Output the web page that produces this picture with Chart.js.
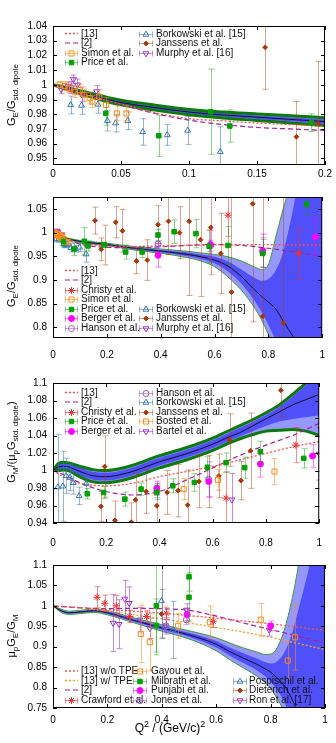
<!DOCTYPE html>
<html><head><meta charset="utf-8">
<script src="https://cdn.jsdelivr.net/npm/chart.js@4/dist/chart.umd.min.js"></script>
<style>
html,body{margin:0;padding:0;background:#fff;}
#wrap{position:relative;width:336px;height:743px;overflow:hidden;background:#fff;}
canvas{position:absolute;left:0;top:0;}
</style></head><body><div id="wrap">
<canvas id="c1" width="336" height="743"></canvas>
<canvas id="c2" width="336" height="743"></canvas>
<canvas id="c3" width="336" height="743"></canvas>
<canvas id="c4" width="336" height="743"></canvas>
</div>
<script>
// ================= tick values =================
const xTicks1 = [0, 0.05, 0.1, 0.15, 0.2];
const xTicks = [0, 0.2, 0.4, 0.6, 0.8, 1];
const yTicks1 = [0.95, 0.96, 0.97, 0.98, 0.99, 1, 1.01, 1.02, 1.03, 1.04];
const yTicks2 = [0.8, 0.85, 0.9, 0.95, 1, 1.05];
const yTicks3 = [0.94, 0.96, 0.98, 1, 1.02, 1.04, 1.06, 1.08, 1.1];
const yTicks4 = [0.75, 0.8, 0.85, 0.9, 0.95, 1, 1.05, 1.1];

// ================= G_E / G_std.dipole data (panels 1 & 2) =================
const simonX = [0.005,0.0086,0.012,0.016,0.0196,0.023,0.027,0.029,0.034,0.039,0.047,0.054];
const simonY = [1.0002,0.9992,0.9976,0.9953,0.9965,0.993,0.991,0.9886,0.992,0.9863,0.9806,0.9806];
const simonE = [0.002,0.003,0.003,0.004,0.004,0.004,0.004,0.004,0.005,0.005,0.005,0.005];
const murphyX = [0.006,0.011,0.0135,0.015,0.018,0.021,0.032];
const murphyY = [0.9969,0.999,0.9982,1.0037,1.0,0.9935,0.9955];
const murphyE = [0.003,0.003,0.004,0.003,0.004,0.005,0.004];
const borkEX = [0.013,0.021,0.033,0.040,0.046,0.055,0.066,0.084,0.099,0.123];
const borkEY = [0.9863,0.986,0.9867,0.9756,0.974,0.9756,0.968,0.9659,0.969,0.9545];
const borkEE = [0.006,0.006,0.006,0.007,0.006,0.006,0.009,0.007,0.0095,0.017];
const priceEX = [0.0388,0.0778,0.116,0.130,0.190,0.27,0.331,0.39,0.45,0.531,0.58,0.65,0.779,0.942];
const priceEY = [0.9806,0.9654,0.9817,0.972,0.9743,0.959,0.959,0.995,1.002,0.998,0.971,0.973,0.956,1.06];
const priceEE = [0.008,0.014,0.029,0.011,0.006,0.015,0.012,0.012,0.025,0.03,0.035,0.04,0.03,0.022];
const janEX = [0.156,0.179,0.195,0.233,0.258,0.31,0.35,0.39,0.429,0.47,0.506,0.548,0.586,0.623,0.663,0.742,0.779,0.856];
const janEY = [1.0255,0.9647,0.9738,1.022,1.004,0.940,0.942,1.017,1.024,1.000,1.024,0.985,1.011,0.956,0.874,1.061,0.823,0.809];
const janEE = [0.0285,0.024,0.042,0.033,0.045,0.027,0.043,0.04,0.07,0.055,0.157,0.12,0.1,0.085,0.25,0.25,0.3,0.3];
const christyEX = [0.65,0.912];
const christyEY = [1.037,0.956];
const christyEE = [0.045,0.053];
const bergerEX = [0.39,0.585,0.779,0.975];
const bergerEY = [0.952,0.975,0.962,0.991];
const bergerEE = [0.025,0.03,0.035,0.04];
const hansonEX = [0.39,0.585,0.779];
const hansonEY = [0.976,0.972,0.958];
const hansonEE = [0.006,0.012,0.031];

// theory curves, panel 1
const lx1 = [0,0.025,0.05,0.075,0.1,0.125,0.15,0.175,0.2];
const ref13_1 = [1.0,0.993,0.987,0.981,0.977,0.9755,0.974,0.973,0.972];
const ref2_1 = [1.0,0.993,0.9865,0.9805,0.976,0.973,0.971,0.970,0.969];
// fit band, panel 1
const bx1 = [0,0.01,0.02,0.03,0.04,0.05,0.075,0.1,0.125,0.15,0.175,0.2];
const bc1 = [1.0,0.9975,0.995,0.9925,0.990,0.988,0.9845,0.9815,0.9795,0.978,0.9765,0.975];
const boU1 = [1.0,0.9981,0.996,0.9938,0.9915,0.9896,0.9862,0.9833,0.9815,0.9802,0.9789,0.9777];
const boL1 = [1.0,0.9969,0.994,0.9912,0.9885,0.9864,0.9828,0.9797,0.9775,0.9758,0.9741,0.9723];
const biU1 = [1.0,0.9978,0.9956,0.9932,0.9908,0.9889,0.9854,0.9825,0.9806,0.9792,0.9778,0.9765];
const biL1 = [1.0,0.9972,0.9945,0.9918,0.9892,0.9871,0.9836,0.9805,0.9784,0.9768,0.9752,0.9735];

// theory curves, panel 2
const lx2 = [0,0.05,0.1,0.15,0.2,0.3,0.4,0.5,0.6,0.7,0.8,0.9,1.0];
const ref13_2 = [1.0,0.987,0.977,0.974,0.972,0.971,0.972,0.973,0.974,0.9745,0.9745,0.974,0.9735];
const ref2_2 = [1.0,0.987,0.976,0.971,0.969,0.968,0.970,0.973,0.975,0.973,0.967,0.959,0.949];
// fit band, panel 2
const bx2 = [0,0.05,0.1,0.15,0.2,0.3,0.4,0.5,0.55,0.6,0.65,0.7,0.75,0.775,0.8,0.825,0.85,0.875,0.9,0.95,1.0];
const bc2 = [1.0,0.988,0.9815,0.978,0.975,0.967,0.961,0.954,0.949,0.942,0.929,0.907,0.878,0.865,0.853,0.84,0.818,0.795,0.772,0.70,0.62];
const boU2 = [1.0,0.9895,0.9835,0.9805,0.9775,0.9705,0.9655,0.9605,0.957,0.954,0.949,0.94,0.927,0.922,0.932,0.985,1.04,1.09,1.15,1.3,1.5];
const biU2 = [1.0,0.9888,0.9825,0.9795,0.9765,0.969,0.9635,0.958,0.954,0.949,0.939,0.922,0.904,0.898,0.902,0.918,0.95,1.005,1.075,1.25,1.45];
const biL2 = [1.0,0.9872,0.9805,0.9765,0.9735,0.965,0.9585,0.95,0.944,0.935,0.918,0.892,0.855,0.832,0.805,0.775,0.74,0.70,0.66,0.55,0.4];
const boL2 = [1.0,0.9865,0.9795,0.9755,0.9725,0.9635,0.9565,0.947,0.940,0.928,0.906,0.878,0.84,0.815,0.785,0.752,0.72,0.68,0.64,0.5,0.35];

// ================= G_M / (mu_p G_std.dipole) data (panel 3) =================
const borkMX = [0.018,0.037,0.049,0.064,0.076,0.098,0.125];
const borkMY = [0.981,0.982,0.994,0.992,0.986,0.971,0.985];
const borkME = [0.06,0.04,0.02,0.015,0.013,0.01,0.01];
const priceMX = [0.129,0.19,0.27,0.331,0.39,0.45,0.531,0.58,0.65,0.72,0.779,0.942];
const priceMY = [0.9734,0.9749,0.9673,0.9787,0.9749,0.9825,0.9863,1.0037,1.009,1.0033,1.0215,1.0139];
const priceME = [0.006,0.007,0.008,0.007,0.008,0.008,0.01,0.012,0.011,0.012,0.012,0.011];
const janMX = [0.18,0.194,0.233,0.294,0.31,0.35,0.39,0.429,0.47,0.506,0.548,0.586,0.623,0.663,0.706,0.742,0.856];
const janMY = [0.959,1.0045,0.943,0.941,0.9665,0.976,0.9597,0.975,0.977,0.9605,0.9874,0.9874,0.9938,1.0348,0.9885,1.0226,1.0917];
const janME = [0.017,0.035,0.022,0.022,0.03,0.025,0.025,0.025,0.03,0.04,0.03,0.03,0.025,0.03,0.022,0.043,0.03];
const christyMX = [0.65,0.912];
const christyMY = [0.9684,1.029];
const christyME = [0.03,0.02];
const bergerMX = [0.39,0.585,0.779,0.975];
const bergerMY = [0.9798,0.9874,1.0075,1.0166];
const bergerME = [0.008,0.018,0.015,0.013];
const hansonMX = [0.39,0.585];
const hansonMY = [0.977,0.99];
const hansonME = [0.008,0.02];
const bostedX = [0.491,0.62,0.832];
const bostedY = [0.9787,0.9893,0.9988];
const bostedE = [0.012,0.012,0.015];
const bartelX = [0.672,1.0];
const bartelY = [0.9666,1.019];
const bartelE = [0.03,0.03];

const lx3 = [0,0.05,0.1,0.2,0.3,0.4,0.5,0.6,0.7,0.8,0.9,1.0];
const ref13_3 = [1.0,0.991,0.9855,0.9825,0.9855,0.993,0.9988,1.0045,1.012,1.0196,1.027,1.033];
const ref2_3 = [1.0,0.994,0.986,0.976,0.972,0.976,0.989,1.003,1.017,1.029,1.04,1.054];
const bx3 = [0,0.02,0.04,0.06,0.1,0.15,0.2,0.25,0.3,0.4,0.5,0.6,0.65,0.7,0.75,0.8,0.85,0.9,0.95,1.0];
const bc3 = [1.0,1.004,1.005,1.004,0.999,0.994,0.993,0.995,0.999,1.010,1.019,1.030,1.037,1.043,1.051,1.059,1.067,1.075,1.081,1.087];
const boU3 = [1.0,1.008,1.0095,1.0085,1.005,1.001,1.0,1.002,1.006,1.017,1.026,1.037,1.044,1.051,1.058,1.066,1.075,1.087,1.1,1.115];
const boL3 = [1.0,1.0,1.0005,0.9995,0.993,0.987,0.986,0.988,0.992,1.003,1.012,1.023,1.030,1.036,1.041,1.045,1.046,1.047,1.045,1.040];
const biU3 = [1.0,1.007,1.0085,1.0075,1.0035,0.9985,0.9975,0.9995,1.0035,1.0145,1.0235,1.0345,1.0415,1.0485,1.0555,1.0635,1.0725,1.0845,1.0975,1.1125];
const biL3 = [1.0,1.001,1.0015,1.0005,0.9945,0.9895,0.9885,0.9905,0.9945,1.0055,1.0145,1.0255,1.0325,1.0385,1.045,1.051,1.056,1.059,1.061,1.063];

// ================= mu_p G_E / G_M data (panel 4) =================
const crawX = [0.162,0.19,0.233,0.282,0.344,0.417,0.589];
const crawY = [1.021,1.0065,1.0,0.974,0.974,0.982,0.962];
const crawE = [0.026,0.02,0.025,0.015,0.015,0.015,0.015];
const gayouX = [0.323,0.356,0.46,0.577,0.764,0.863,0.89];
const gayouY = [0.931,0.911,0.951,0.96,0.966,0.866,0.923];
const gayouE = [0.07,0.07,0.03,0.04,0.04,0.045,0.08];
const milbX = [0.38,0.38,0.5,0.5];
const milbY = [1.0,0.952,1.071,1.021];
const milbE = [0.12,0.065,0.035,0.06];
const punjX = [0.493,0.8];
const punjY = [0.979,0.951];
const punjE = [0.015,0.012];
const jonesX = [0.415,0.49];
const jonesY = [0.951,0.966];
const jonesE = [0.015,0.012];
const posX = [0.399,0.442];
const posY = [1.012,0.941];
const posE = [0.09,0.07];
const dietX = [0.399];
const dietY = [0.98];
const dietE = [0.06];
const ronX = [0.221,0.243,0.264,0.28,0.319,0.356,0.415,0.491,0.795];
const ronY = [0.958,0.955,1.017,1.0065,0.966,0.945,0.951,0.99,0.941];
const ronE = [0.07,0.06,0.045,0.04,0.03,0.025,0.02,0.015,0.015];

const lx4 = [0,0.1,0.2,0.3,0.4,0.5,0.6,0.7,0.8,0.9,1.0];
const ref13noTPE = [1.0,0.996,0.991,0.987,0.982,0.976,0.970,0.963,0.956,0.948,0.94];
const ref13TPE = [1.0,0.995,0.987,0.978,0.968,0.958,0.947,0.936,0.923,0.908,0.893];
const ref2_4 = [1.0,0.995,0.993,0.994,0.993,0.989,0.975,0.958,0.942,0.926,0.909];
const bx4 = [0,0.03,0.06,0.1,0.15,0.2,0.3,0.4,0.5,0.6,0.65,0.7,0.75,0.78,0.8,0.82,0.85,0.88,0.9,0.95,1.0];
const bc4 = [1.0,0.988,0.983,0.985,0.988,0.983,0.964,0.946,0.929,0.906,0.888,0.872,0.857,0.846,0.838,0.826,0.805,0.77,0.74,0.66,0.58];
const boU4 = [1.0,0.992,0.987,0.989,0.992,0.988,0.970,0.954,0.939,0.922,0.909,0.897,0.887,0.881,0.882,0.893,0.94,1.02,1.09,1.3,1.5];
const biU4 = [1.0,0.990,0.985,0.987,0.990,0.986,0.967,0.950,0.934,0.914,0.898,0.884,0.871,0.862,0.859,0.862,0.885,0.935,0.985,1.12,1.3];
const biL4 = [1.0,0.986,0.981,0.983,0.986,0.980,0.961,0.942,0.924,0.898,0.878,0.86,0.842,0.828,0.815,0.798,0.765,0.715,0.675,0.56,0.45];
const boL4 = [1.0,0.984,0.979,0.981,0.984,0.978,0.958,0.938,0.919,0.89,0.868,0.848,0.828,0.812,0.798,0.778,0.74,0.685,0.645,0.52,0.4];

// ================= styles =================
const FONT = '"Liberation Sans", Arial, Helvetica, sans-serif';
Chart.defaults.font.family = FONT;
const ST = {
  price:  {ps:'rect', r:3.2, c:'#00a000', fill:true,  ec:'rgba(0,160,0,0.45)'},
  simon:  {ps:'rect', r:3.6, c:'#ff8c1a', fill:false, ec:'rgba(255,140,26,0.55)'},
  bork:   {ps:'triangle', r:3.4, c:'#3a78b4', fill:false, ec:'rgba(58,120,180,0.55)'},
  jan:    {ps:'rectRot', r:2.4, c:'#a8380a', fill:true, ec:'rgba(168,56,10,0.45)'},
  murphy: {ps:'triangle', rot:180, r:3.4, c:'#9932cc', fill:false, ec:'rgba(153,50,204,0.55)'},
  christy:{ps:'star', r:3.6, c:'#f03030', fill:false, ec:'rgba(240,48,48,0.55)'},
  berger: {ps:'circle', r:3, c:'#ff00ff', fill:true, ec:'rgba(255,0,255,0.5)'},
  hanson: {ps:'circle', r:3, c:'#9955cc', fill:false, ec:'rgba(153,85,204,0.55)'}
};
const RED = '#ff5050', PURPLE = '#a020a0', ORANGE = '#ff9a30';
const L13 = {k:'line', c:RED, dash:[2,2], w:1.3};
const L2 = {k:'line', c:PURPLE, dash:[5,3], w:1.2};
const LTPE = {k:'line', c:ORANGE, dash:[2,2], w:1.3};

function xy(xs, ys){ return xs.map((x,i)=>({x:x, y:ys[i]})); }
function pts(xs, ys, es, st){
  return {type:'line', showLine:false, data:xy(xs,ys), errs:es, errColor:st.ec,
    pointStyle:st.ps, pointRotation:st.rot||0, pointRadius:st.r, pointHoverRadius:st.r,
    pointBackgroundColor: st.fill ? st.c : 'rgba(0,0,0,0)', pointBorderColor:st.c,
    pointBorderWidth:1, borderColor:st.c, backgroundColor:st.c, fill:false, order:1};
}
function curve(xs, ys, s){
  return {type:'line', data:xy(xs,ys), borderColor:s.c, borderDash:s.dash, borderWidth:s.w,
    pointRadius:0, fill:false, cubicInterpolationMode:'monotone', order:5, clip:0};
}
function band(xs, c, oU, oL, iU, iL, gw, gc){
  const b = {type:'line', pointRadius:0, cubicInterpolationMode:'monotone', showLine:true, clip:0};
  return [
    Object.assign({}, b, {data:xy(xs,oU), borderColor:gc, borderWidth:gw, fill:false, order:20}),
    Object.assign({}, b, {data:xy(xs,oL), borderColor:gc, borderWidth:gw, fill:'-1', backgroundColor:'#9696ff', order:19}),
    Object.assign({}, b, {data:xy(xs,iU), borderColor:'rgba(0,0,0,0)', borderWidth:1, fill:false, order:18}),
    Object.assign({}, b, {data:xy(xs,iL), borderColor:'rgba(0,0,0,0)', borderWidth:1, fill:'-1', backgroundColor:'#5050fa', order:17}),
    Object.assign({}, b, {data:xy(xs,c), borderColor:'#101028', borderWidth:1, fill:false, order:16})
  ];
}

// ================= plugins =================
const errPlugin = {
  id:'errbars',
  beforeDatasetDraw(chart, args){
    const ds = chart.data.datasets[args.index];
    if (!ds.errs) return;
    const ctx = chart.ctx, xs = chart.scales.x, ys = chart.scales.y, a = chart.chartArea;
    ctx.save();
    ctx.beginPath(); ctx.rect(a.left, a.top, a.right-a.left, a.bottom-a.top); ctx.clip();
    ctx.strokeStyle = ds.errColor; ctx.lineWidth = 1;
    ds.data.forEach((p,i)=>{
      const e = ds.errs[i];
      const px = Math.round(xs.getPixelForValue(p.x)) + 0.5;
      const y1 = ys.getPixelForValue(p.y + e), y2 = ys.getPixelForValue(p.y - e);
      ctx.beginPath();
      ctx.moveTo(px, y1); ctx.lineTo(px, y2);
      ctx.moveTo(px-3, y1); ctx.lineTo(px+3, y1);
      ctx.moveTo(px-3, y2); ctx.lineTo(px+3, y2);
      ctx.stroke();
    });
    ctx.restore();
  }
};

const deco = {};
function drawRich(ctx, segs, x, y, rot, F){
  ctx.save(); ctx.translate(x, y); if (rot) ctx.rotate(-Math.PI/2);
  const fontOf = s => (s.m ? Math.round(F*0.72) : F) + 'px ' + FONT;
  let total = 0;
  segs.forEach(s=>{ ctx.font = fontOf(s); s.w = ctx.measureText(s.t).width; total += s.w; });
  let cx = -total/2;
  ctx.textBaseline = 'alphabetic'; ctx.textAlign = 'left'; ctx.fillStyle = '#000';
  segs.forEach(s=>{
    ctx.font = fontOf(s);
    const dy = s.m === 'sub' ? F*0.3 : (s.m === 'sup' ? -F*0.42 : 0);
    ctx.fillText(s.t, cx, dy); cx += s.w;
  });
  ctx.restore();
}
function drawMarker(ctx, st, x, y){
  ctx.fillStyle = st.fill ? st.c : 'rgba(0,0,0,0)'; ctx.strokeStyle = st.c; ctx.lineWidth = 1;
  if (Chart.helpers && Chart.helpers.drawPoint) {
    Chart.helpers.drawPoint(ctx, {pointStyle:st.ps, rotation:st.rot||0, radius:st.r, borderWidth:1}, x, y);
  } else {
    ctx.beginPath(); ctx.rect(x-2.5, y-2.5, 5, 5); if (st.fill) ctx.fill(); ctx.stroke();
  }
}
function drawLegend(ctx, items){
  ctx.save();
  items.forEach(it=>{
    const [x0, x1, tx, y, s, label] = it;
    ctx.save();
    if (s.k === 'line') {
      ctx.strokeStyle = s.c; ctx.lineWidth = s.w; ctx.setLineDash(s.dash);
      ctx.beginPath(); ctx.moveTo(x0, y); ctx.lineTo(x1, y); ctx.stroke();
    } else {
      ctx.strokeStyle = s.ec; ctx.lineWidth = 1;
      const yy = Math.round(y) + 0.5;
      ctx.beginPath();
      ctx.moveTo(x0, yy); ctx.lineTo(x1, yy);
      ctx.moveTo(x0+0.5, yy-3); ctx.lineTo(x0+0.5, yy+3);
      ctx.moveTo(x1-0.5, yy-3); ctx.lineTo(x1-0.5, yy+3);
      ctx.stroke();
      drawMarker(ctx, s, (x0+x1)/2, yy);
    }
    ctx.restore();
    ctx.font = '10px ' + FONT; ctx.textBaseline = 'middle'; ctx.textAlign = 'left'; ctx.fillStyle = '#111';
    ctx.fillText(label, tx, y + 0.5);
  });
  ctx.restore();
}
const decoPlugin = {
  id:'deco',
  afterDatasetsDraw(chart){
    const ctx = chart.ctx, a = chart.chartArea, xs = chart.scales.x, ys = chart.scales.y;
    ctx.save(); ctx.strokeStyle = '#000'; ctx.lineWidth = 1;
    ctx.strokeRect(a.left+0.5, a.top+0.5, a.right-a.left-1, a.bottom-a.top-1);
    ctx.beginPath();
    xs.ticks.forEach(t=>{
      const p = Math.round(xs.getPixelForValue(t.value)) + 0.5;
      ctx.moveTo(p, a.bottom); ctx.lineTo(p, a.bottom-4);
      ctx.moveTo(p, a.top); ctx.lineTo(p, a.top+4);
    });
    ys.ticks.forEach(t=>{
      const p = Math.round(ys.getPixelForValue(t.value)) + 0.5;
      ctx.moveTo(a.left, p); ctx.lineTo(a.left+4, p);
      ctx.moveTo(a.right, p); ctx.lineTo(a.right-4, p);
    });
    ctx.stroke(); ctx.restore();
  },
  afterDraw(chart){
    const d = deco[chart.canvas.id]; if (!d) return;
    const ctx = chart.ctx;
    drawLegend(ctx, d.legend);
    drawRich(ctx, d.ytitle, 15, d.ytitleY, true, 11);
    if (d.xtitle) drawRich(ctx, d.xtitle, d.xtitleX, d.xtitleY, false, 12);
  }
};

function makeChart(id, datasets, o){
  return new Chart(document.getElementById(id), {
    type:'line',
    data:{datasets:datasets},
    options:{
      responsive:false, animation:false, devicePixelRatio:1, events:[],
      layout:{padding:{top:o.top, right:11, bottom:743 - o.bottom - 30, left:0}},
      plugins:{legend:{display:false}, tooltip:{enabled:false},
        filler:{propagate:false, drawTime:'beforeDatasetsDraw'}},
      scales:{
        x:{type:'linear', min:o.xmin, max:o.xmax,
          afterBuildTicks: s=>{ s.ticks = o.xticks.map(v=>({value:v})); },
          afterFit: s=>{ s.height = 30; },
          grid:{display:false, drawTicks:false}, border:{display:false},
          ticks:{padding:o.xpad, autoSkip:false, maxRotation:0, color:'#000',
            font:{size:10, family:FONT}, callback:v=>String(v)}},
        y:{type:'linear', min:o.ymin, max:o.ymax,
          afterBuildTicks: s=>{ s.ticks = o.yticks.map(v=>({value:v})); },
          afterFit: s=>{ s.width = 53; },
          grid:{display:false, drawTicks:false}, border:{display:false},
          ticks:{padding:6, autoSkip:false, color:'#000',
            font:{size:10, family:FONT}, callback:v=>String(v)}}
      }
    },
    plugins:[errPlugin, decoPlugin]
  });
}

// ================= panel 1 =================
deco.c1 = {
  ytitle:[{t:'G'},{t:'E',m:'sub'},{t:'/G'},{t:'std. dipole',m:'sub'}], ytitleY:95,
  legend:[
    [65,78,81,33.5,L13,'[13]'],
    [65,78,81,43,L2,'[2]'],
    [65,78,81,52.5,ST.simon,'Simon et al.'],
    [65,78,81,62,ST.price,'Price et al.'],
    [139,153,156,33.5,ST.bork,'Borkowski et al. [15]'],
    [139,153,156,43,ST.jan,'Janssens et al.'],
    [139,153,156,52.5,ST.murphy,'Murphy et al. [16]']
  ]
};
makeChart('c1', [
  pts(priceEX, priceEY, priceEE, ST.price),
  pts(simonX, simonY, simonE, ST.simon),
  pts(murphyX, murphyY, murphyE, ST.murphy),
  pts(borkEX, borkEY, borkEE, ST.bork),
  pts(janEX, janEY, janEE, ST.jan),
  curve(lx1, ref13_1, L13), curve(lx1, ref2_1, L2),
  ...band(bx1, bc1, boU1, boL1, biU1, biL1, 3, '#0b7a0b')
], {top:26, bottom:165, xmin:0, xmax:0.2, ymin:0.9455, ymax:1.04, xticks:xTicks1, yticks:yTicks1, xpad:3});

// ================= panel 2 =================
deco.c2 = {
  ytitle:[{t:'G'},{t:'E',m:'sub'},{t:'/G'},{t:'std. dipole',m:'sub'}], ytitleY:276,
  legend:[
    [65,78,81,270.5,L13,'[13]'],
    [65,78,81,280,L2,'[2]'],
    [65,78,81,289.5,ST.christy,'Christy et al.'],
    [65,78,81,299,ST.simon,'Simon et al.'],
    [65,78,81,308.5,ST.price,'Price et al.'],
    [65,78,81,318,ST.berger,'Berger et al.'],
    [65,78,81,327.5,ST.hanson,'Hanson et al.'],
    [139,153,156,308.5,ST.bork,'Borkowski et al. [15]'],
    [139,153,156,318,ST.jan,'Janssens et al.'],
    [139,153,156,327.5,ST.murphy,'Murphy et al. [16]']
  ]
};
makeChart('c2', [
  pts(priceEX, priceEY, priceEE, ST.price),
  pts(bergerEX, bergerEY, bergerEE, ST.berger),
  pts(christyEX, christyEY, christyEE, ST.christy),
  pts(hansonEX, hansonEY, hansonEE, ST.hanson),
  pts(simonX, simonY, simonE, ST.simon),
  pts(murphyX, murphyY, murphyE, ST.murphy),
  pts(borkEX, borkEY, borkEE, ST.bork),
  pts(janEX, janEY, janEE, ST.jan),
  curve(lx2, ref13_2, L13), curve(lx2, ref2_2, L2),
  ...band(bx2, bc2, boU2, boL2, biU2, biL2, 1, '#3c9a3c')
], {top:197, bottom:338, xmin:0, xmax:1, ymin:0.777, ymax:1.0755, xticks:xTicks, yticks:yTicks2, xpad:11});

// ================= panel 3 =================
deco.c3 = {
  ytitle:[{t:'G'},{t:'M',m:'sub'},{t:'/(\u03bc'},{t:'p',m:'sub'},{t:'G'},{t:'std. dipole',m:'sub'},{t:')'}], ytitleY:442,
  legend:[
    [65,78,81,392.5,L13,'[13]'],
    [65,78,81,402,L2,'[2]'],
    [65,78,81,411.5,ST.christy,'Christy et al.'],
    [65,78,81,421,ST.price,'Price et al.'],
    [65,78,81,430.5,ST.berger,'Berger et al.'],
    [139,153,156,392.5,ST.hanson,'Hanson et al.'],
    [139,153,156,402,ST.bork,'Borkowski et al. [15]'],
    [139,153,156,411.5,ST.jan,'Janssens et al.'],
    [139,153,156,421,ST.simon,'Bosted et al.'],
    [139,153,156,430.5,ST.murphy,'Bartel et al.']
  ]
};
makeChart('c3', [
  pts(priceMX, priceMY, priceME, ST.price),
  pts(bergerMX, bergerMY, bergerME, ST.berger),
  pts(christyMX, christyMY, christyME, ST.christy),
  pts(hansonMX, hansonMY, hansonME, ST.hanson),
  pts(bostedX, bostedY, bostedE, ST.simon),
  pts(bartelX, bartelY, bartelE, ST.murphy),
  pts(borkMX, borkMY, borkME, ST.bork),
  pts(janMX, janMY, janME, ST.jan),
  curve(lx3, ref13_3, L13), curve(lx3, ref2_3, L2),
  ...band(bx3, bc3, boU3, boL3, biU3, biL3, 3, '#0b7a0b')
], {top:383, bottom:523, xmin:0, xmax:1, ymin:0.94, ymax:1.1, xticks:xTicks, yticks:yTicks3, xpad:14});

// ================= panel 4 =================
const STm = {milb: ST.price, punj: ST.berger, jones: ST.hanson, pos: ST.bork, diet: ST.jan, ron: ST.murphy, gayou: ST.simon, craw: ST.christy};
deco.c4 = {
  ytitle:[{t:'\u03bc'},{t:'p',m:'sub'},{t:'G'},{t:'E',m:'sub'},{t:'/G'},{t:'M',m:'sub'}], ytitleY:636,
  xtitle:[{t:'Q'},{t:'2',m:'sup'},{t:' / (GeV/c)'},{t:'2',m:'sup'}], xtitleX:170, xtitleY:732,
  legend:[
    [65,78,81,671,L13,'[13] w/o TPE'],
    [65,78,81,680.5,LTPE,'[13] w/ TPE'],
    [65,78,81,690,L2,'[2]'],
    [65,78,81,699.5,STm.craw,'Crawford et al.'],
    [133,147,151,671,STm.gayou,'Gayou et al.'],
    [133,147,151,680.5,STm.milb,'Milbrath et al.'],
    [133,147,151,690,STm.punj,'Punjabi et al.'],
    [133,147,151,699.5,STm.jones,'Jones et al.'],
    [233,247,249,680.5,STm.pos,'Pospischil et al.'],
    [233,247,249,690,STm.diet,'Dieterich et al.'],
    [233,247,249,699.5,STm.ron,'Ron et al. [17]']
  ]
};
makeChart('c4', [
  pts(milbX, milbY, milbE, STm.milb),
  pts(punjX, punjY, punjE, STm.punj),
  pts(crawX, crawY, crawE, STm.craw),
  pts(jonesX, jonesY, jonesE, STm.jones),
  pts(posX, posY, posE, STm.pos),
  pts(dietX, dietY, dietE, STm.diet),
  pts(gayouX, gayouY, gayouE, STm.gayou),
  pts(ronX, ronY, ronE, STm.ron),
  curve(lx4, ref13noTPE, L13), curve(lx4, ref13TPE, LTPE), curve(lx4, ref2_4, L2),
  ...band(bx4, bc4, boU4, boL4, biU4, biL4, 1, '#3c9a3c')
], {top:565, bottom:708, xmin:0, xmax:1, ymin:0.75, ymax:1.1, xticks:xTicks, yticks:yTicks4, xpad:6});
</script>
</body></html>
